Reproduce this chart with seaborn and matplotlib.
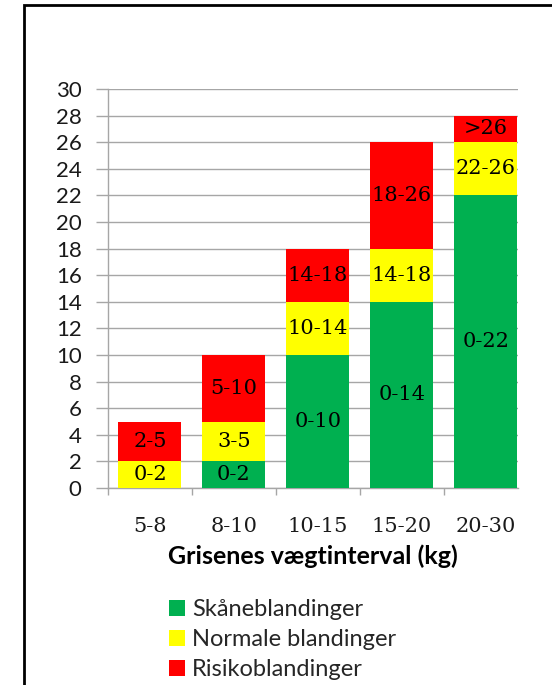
import numpy as np
import pandas as pd
import seaborn as sns
import matplotlib.pyplot as plt
from matplotlib.patches import Rectangle

# data
categories = ["5-8", "8-10", "10-15", "15-20", "20-30"]
skaane = [0, 2, 10, 14, 22]
normale = [2, 3, 4, 4, 4]
risiko = [3, 5, 4, 8, 2]
skaane_labels = ["", "0-2", "0-10", "0-14", "0-22"]
normale_labels = ["0-2", "3-5", "10-14", "14-18", "22-26"]
risiko_labels = ["2-5", "5-10", "14-18", "18-26", ">26"]

series_names = ["Skåneblandinger", "Normale blandinger", "Risikoblandinger"]
colors = ["#00B050", "#FFFF00", "#FF0000"]

sns.set_theme(style="white")
plt.rcParams['font.family'] = ['Lato', 'DejaVu Sans']

fig = plt.figure(figsize=(5.52, 6.85), dpi=100)
ax = fig.add_axes([108 / 552, 1 - 488 / 685, (518 - 108) / 552, (488 - 89) / 685])

df = pd.DataFrame({"kategori": categories, "skaane": skaane,
                   "normale": normale, "risiko": risiko})
bottoms = np.zeros(len(categories))
label_sets = [skaane_labels, normale_labels, risiko_labels]
for col, name, color, labels in zip(["skaane", "normale", "risiko"],
                                    series_names, colors, label_sets):
    sns.barplot(data=df, x="kategori", y=col, color=color, bottom=bottoms,
                width=0.75, saturation=1, label=name, ax=ax, zorder=3,
                linewidth=0, edgecolor="none")
    cont = ax.containers[-1]
    ax.bar_label(cont, labels=labels, label_type="center",
                 fontsize=15, family="DejaVu Serif", color="black")
    bottoms = bottoms + np.array(df[col])

# axes styling
ax.set_ylim(0, 30)
ax.set_xlim(-0.5, 4.385)
ax.set_yticks(range(0, 31, 2))
ax.yaxis.grid(True, color="#A6A6A6", linewidth=1, zorder=0)
ax.set_axisbelow(True)
for side in ["top", "right"]:
    ax.spines[side].set_visible(False)
for side in ["left", "bottom"]:
    ax.spines[side].set_color("#A6A6A6")
    ax.spines[side].set_linewidth(1)
ax.tick_params(axis="y", which="major", left=True, length=9, width=1,
               color="#A6A6A6", pad=10, labelsize=16, labelcolor="#1a1a1a")
ax.tick_params(axis="x", which="major", bottom=False, pad=15,
               labelsize=15, labelcolor="#1a1a1a")
for t in ax.get_xticklabels():
    t.set_family("DejaVu Serif")
ax.set_xticks([-0.5, 0.5, 1.5, 2.5, 3.5], minor=True)
ax.tick_params(axis="x", which="minor", bottom=True, length=5, width=1,
               color="#A6A6A6")
ax.set_ylabel("")
ax.set_xlabel("Grisenes vægtinterval (kg)", fontsize=18, fontweight="bold",
              labelpad=6, color="black")

# legend below the axis
handles, lbls = ax.get_legend_handles_labels()
if ax.legend_:
    ax.legend_.remove()
fig.legend(handles, lbls, loc="upper left", bbox_to_anchor=(160 / 552, 1 - 590 / 685),
           frameon=False, fontsize=17, handlelength=0.65, handleheight=0.65,
           handletextpad=0.3, labelspacing=0.38, borderaxespad=0)

# outer chart frame (cropped at right and bottom)
fig.add_artist(Rectangle((24 / 552, -0.05), 1.2, 1.05 - 5 / 685,
                         transform=fig.transFigure, fill=False,
                         edgecolor="black", linewidth=2))

fig.savefig("out.png", dpi=100)
